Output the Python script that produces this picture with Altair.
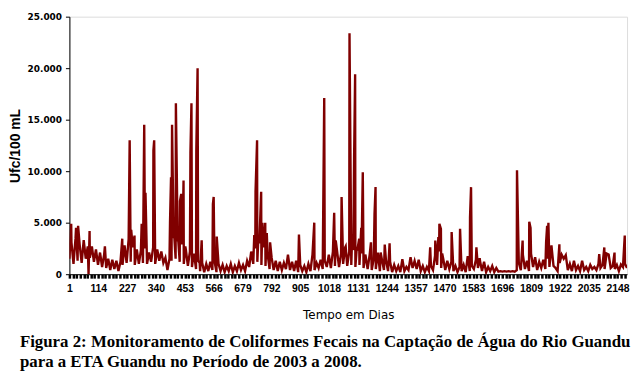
import altair as alt
import pandas as pd

# Baseline readings, one every 8 days (alternating lows/highs of the dense band)
base_step = 8
base_vals = [
    1500, 3100, 1000, 3500, 1300, 2900, 1100, 3300, 1500, 2700,
    1600, 2700, 1200, 2400, 900, 2100, 700, 1900, 600, 1500,
    400, 1400, 500, 1300, 300, 1200, 900, 2800, 1100, 3400,
    1200, 2600, 900, 2400, 1000, 2300, 1100, 2500, 1000, 2100,
    1200, 2600, 1000, 2400, 1300, 2200, 1100, 1600, 400, 1500,
    1300, 3500, 1500, 3200, 1200, 3000, 1000, 2400, 800, 2200,
    700, 2000, 500, 1300, 300, 1100, 200, 1000, 300, 1200,
    400, 1300, 200, 1000, 300, 900, 200, 800, 300, 1000,
    200, 800, 300, 1100, 400, 900, 300, 1300, 700, 2200,
    1000, 2500, 1200, 3000, 900, 2600, 800, 2000, 500, 1600,
    400, 1300, 300, 1200, 400, 1100, 500, 1900, 400, 1200,
    300, 1300, 200, 900, 300, 800, 200, 1000, 300, 1900,
    400, 1100, 600, 1400, 500, 1300, 700, 1900, 600, 2200,
    800, 2300, 700, 2000, 1000, 2600, 800, 2200, 900, 2500,
    700, 2400, 900, 2000, 600, 1800, 500, 1900, 400, 1500,
    500, 2100, 300, 1400, 400, 1300, 300, 1200, 200, 900,
    300, 800, 200, 1450, 300, 700, 400, 1650, 600, 1300,
    500, 1400, 300, 800, 200, 700, 300, 800, 400, 1800,
    900, 2200, 600, 1500, 400, 1300, 500, 1200, 300, 800,
    200, 700, 300, 900, 200, 1760, 300, 800, 500, 1400,
    600, 1300, 300, 1200, 200, 700, 300, 800, 200, 600,
    250, 300, 250, 300, 250, 300, 250, 300, 250, 400,
    1100, 400, 1900, 500, 1300, 300, 2000, 700, 1650, 400,
    1200, 600, 1400, 500, 1500, 700, 2800, 800, 600, 300,
    1100, 1900, 1500, 1850, 400, 1000, 300, 1300, 400, 800,
    300, 1300, 400, 700, 300, 900, 500, 700, 400, 1000,
    600, 900, 500, 2000, 1900, 600, 800, 500, 900, 300,
    950, 700, 1000, 600,
]

# Individual spikes (day, Ufc/100 mL)
peak_days = [
    8, 27, 35, 76, 80, 140, 208, 237, 243, 256, 284, 294, 299, 330, 333,
    395, 399, 403, 411, 418, 427, 434, 439, 444, 448, 455, 475, 479, 485,
    498, 503, 511, 519, 563, 566, 578, 725, 730, 736, 741, 752, 757, 764,
    768, 774, 787, 900, 960, 994, 999, 1038, 1044, 1067, 1083, 1098, 1107,
    1116, 1120, 1126, 1136, 1144, 1150, 1160, 1182, 1196, 1200, 1220, 1236,
    1255, 1414, 1434, 1446, 1450, 1456, 1461, 1498, 1531, 1570, 1574, 1595,
    1608, 1754, 1776, 1802, 1807, 1868, 1872, 1877, 1890, 1920, 2076, 2096,
    2136, 2176,
]
peak_vals = [
    4900, 4500, 4700, 0, 4200, 2700, 3450, 13000, 4300, 3750, 4900, 14500, 7900, 12000, 13000,
    5000, 9400, 14500, 4000, 16600, 3400, 7100, 7800, 3000, 9100, 2700, 11800, 16600, 1500,
    12000, 20000, 1100, 3300, 6800, 7500, 3650, 3800, 8000, 13000, 3500, 8000, 5000, 3100,
    5000, 4000, 3100, 3850, 5000, 3200, 17100, 5960, 3270, 7500, 2700, 23400, 2600,
    11250, 19400, 2400, 3450, 4500, 9900, 1900, 3100, 5850, 8460, 2100, 2880,
    3000, 2600, 3270, 3600, 4900, 4400, 2000, 4100, 4400, 5500, 8450, 2600,
    1550, 10100, 3270, 5100, 4500, 3100, 4700, 5000, 2500, 2900, 1950, 2600,
    2100, 3750,
]

x_label_days = [1 + 113 * k for k in range(20)]
x_tick_days = [1 + 113 * j / 8 for j in range(155)]
y_ticks = [0, 5000, 10000, 15000, 20000, 25000]

caption = [
    "Figura 2: Monitoramento de Coliformes Fecais na Captação de Água do Rio Guandu",
    "para a ETA Guandu no Período de 2003 a 2008.",
]

base_days = [1 + base_step * i for i in range(len(base_vals))]
df = pd.DataFrame({"dia": base_days + peak_days, "ufc": base_vals + peak_vals})
df = df.sort_values("dia", kind="stable").reset_index(drop=True)

label_set = ",".join(str(d) for d in x_label_days)

chart = (
    alt.Chart(df)
    .mark_line(color="#800000", strokeWidth=2.4, clip=True)
    .encode(
        x=alt.X(
            "dia:Q",
            scale=alt.Scale(domain=[1, 2185], nice=False, zero=False),
            axis=alt.Axis(
                values=x_tick_days,
                labelExpr="indexof([" + label_set + "], datum.value) >= 0 ? datum.value : ''",
                labelOverlap=False,
                labelFlush=False,
                labelFont="Liberation Sans",
                labelFontSize=10.5,
                labelFontWeight="bold",
                labelColor="black",
                labelPadding=5,
                ticks=True,
                tickSize=4,
                tickWidth=2.5,
                tickColor="black",
                tickOpacity=1,
                domain=True,
                domainColor="black",
                domainWidth=1,
                grid=False,
                title="Tempo em Dias",
                titleFont="DejaVu Sans",
                titleFontSize=12,
                titleFontWeight="normal",
                titleColor="black",
                titlePadding=16,
            ),
        ),
        y=alt.Y(
            "ufc:Q",
            scale=alt.Scale(domain=[0, 25000], nice=False),
            axis=alt.Axis(
                values=y_ticks,
                labelExpr="replace(format(datum.value, ','), ',', '.')",
                labelFont="DejaVu Sans",
                labelFontSize=9,
                labelFontWeight="bold",
                labelColor="black",
                labelPadding=4,
                ticks=True,
                tickSize=4,
                tickWidth=1,
                tickColor="black",
                tickOpacity=1,
                domain=True,
                domainColor="black",
                grid=False,
                title="Ufc/100 mL",
                titleFont="Liberation Sans",
                titleFontSize=14,
                titleFontWeight="bold",
                titleColor="black",
                titleAngle=270,
                titleX=-54,
                titleY=130,
                titleAlign="center",
                titleBaseline="middle",
            ),
        ),
    )
    .properties(
        width=563,
        height=260,
        autosize=alt.AutoSizeParams(type="none"),
        padding={"left": 62, "top": 7, "right": 5, "bottom": 98},
        title=alt.TitleParams(
            text=caption,
            orient="bottom",
            anchor="start",
            frame="group",
            dx=-50,
            offset=14,
            font="Liberation Serif",
            fontSize=17,
            fontWeight="bold",
            color="black",
            lineHeight=20,
        ),
    )
    .configure_view(stroke=None)
    .configure(background="white")
)

chart.save("out.html", embed_options={"renderer": "svg", "actions": False})
